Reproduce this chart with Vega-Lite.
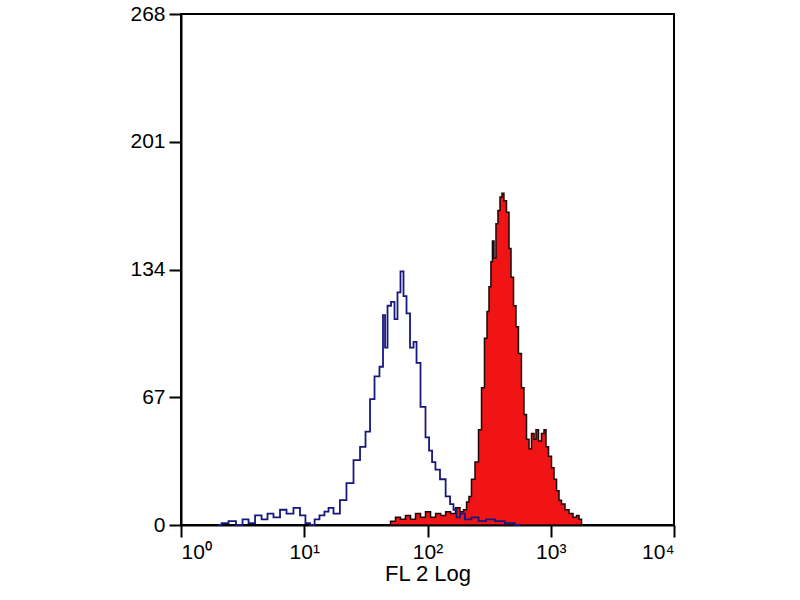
{
  "$schema": "https://vega.github.io/schema/vega-lite/v6.json",
  "width": 493,
  "height": 511,
  "autosize": {"type": "none"},
  "padding": {"left": 181, "top": 14, "right": 126, "bottom": 75},
  "background": "white",
  "config": {
    "view": {"stroke": "black", "strokeWidth": 2},
    "font": "Liberation Sans",
    "axis": {
      "grid": false,
      "domainColor": "black",
      "domainWidth": 2,
      "tickColor": "black",
      "tickWidth": 2,
      "tickSize": 12,
      "labelColor": "black",
      "labelFontSize": 21,
      "labelFont": "Liberation Sans",
      "titleFont": "Liberation Sans",
      "titleFontSize": 22,
      "titleFontWeight": "normal",
      "titleColor": "black"
    }
  },
  "datasets": {
    "blue": [
      {"x": 2.0, "count": 0}, {"x": 2.28, "count": 1}, {"x": 2.59, "count": 2}, {"x": 3.01, "count": 0},
      {"x": 3.31, "count": 3}, {"x": 3.77, "count": 1}, {"x": 4.22, "count": 5}, {"x": 4.81, "count": 3},
      {"x": 5.27, "count": 6}, {"x": 6.01, "count": 4}, {"x": 6.73, "count": 8}, {"x": 7.66, "count": 6},
      {"x": 8.73, "count": 9}, {"x": 9.77, "count": 5}, {"x": 10.7, "count": 1}, {"x": 11.6, "count": 0},
      {"x": 12.7, "count": 3}, {"x": 13.9, "count": 5}, {"x": 15.3, "count": 7}, {"x": 16.2, "count": 9},
      {"x": 18.4, "count": 6}, {"x": 20.6, "count": 13}, {"x": 23.5, "count": 22}, {"x": 26.8, "count": 34},
      {"x": 30.0, "count": 41}, {"x": 32.9, "count": 49}, {"x": 35.5, "count": 66}, {"x": 38.9, "count": 78},
      {"x": 42.7, "count": 83}, {"x": 44.4, "count": 110}, {"x": 46.1, "count": 93}, {"x": 48.7, "count": 115},
      {"x": 52.5, "count": 117}, {"x": 55.5, "count": 108}, {"x": 58.7, "count": 122}, {"x": 62.1, "count": 133},
      {"x": 65.7, "count": 120}, {"x": 69.5, "count": 111}, {"x": 74.9, "count": 93}, {"x": 79.2, "count": 96},
      {"x": 83.8, "count": 85}, {"x": 91.9, "count": 62}, {"x": 101, "count": 46}, {"x": 105, "count": 39},
      {"x": 113, "count": 33}, {"x": 119, "count": 29}, {"x": 134, "count": 24}, {"x": 147, "count": 15},
      {"x": 158, "count": 11}, {"x": 167, "count": 8}, {"x": 177, "count": 4}, {"x": 190, "count": 6},
      {"x": 213, "count": 3}, {"x": 243, "count": 4}, {"x": 277, "count": 2}, {"x": 321, "count": 3},
      {"x": 387, "count": 2}, {"x": 467, "count": 1}, {"x": 562, "count": 0}
    ],
    "red": [
      {"x": 47.8, "count": 0}, {"x": 52.5, "count": 2}, {"x": 57.6, "count": 4}, {"x": 63.2, "count": 3},
      {"x": 69.5, "count": 5}, {"x": 76.3, "count": 3}, {"x": 83.8, "count": 6}, {"x": 91.9, "count": 4},
      {"x": 101, "count": 7}, {"x": 111, "count": 4}, {"x": 122, "count": 6}, {"x": 134, "count": 5},
      {"x": 147, "count": 7}, {"x": 161, "count": 6}, {"x": 177, "count": 9}, {"x": 190, "count": 7},
      {"x": 202, "count": 8}, {"x": 213, "count": 12}, {"x": 221, "count": 15}, {"x": 234, "count": 24},
      {"x": 252, "count": 33}, {"x": 267, "count": 50}, {"x": 282, "count": 72}, {"x": 298, "count": 98},
      {"x": 310, "count": 112}, {"x": 321, "count": 125}, {"x": 333, "count": 138}, {"x": 340, "count": 149},
      {"x": 353, "count": 140}, {"x": 366, "count": 158}, {"x": 380, "count": 165}, {"x": 395, "count": 172},
      {"x": 409, "count": 174}, {"x": 425, "count": 170}, {"x": 450, "count": 164}, {"x": 467, "count": 145},
      {"x": 485, "count": 130}, {"x": 513, "count": 115}, {"x": 532, "count": 104}, {"x": 562, "count": 90},
      {"x": 595, "count": 72}, {"x": 618, "count": 58}, {"x": 654, "count": 45}, {"x": 679, "count": 40},
      {"x": 718, "count": 48}, {"x": 746, "count": 45}, {"x": 773, "count": 50}, {"x": 818, "count": 44},
      {"x": 865, "count": 48}, {"x": 898, "count": 50}, {"x": 933, "count": 41}, {"x": 986, "count": 36},
      {"x": 1043, "count": 30}, {"x": 1083, "count": 24}, {"x": 1146, "count": 18}, {"x": 1189, "count": 13},
      {"x": 1257, "count": 11}, {"x": 1355, "count": 8}, {"x": 1460, "count": 6}, {"x": 1574, "count": 4},
      {"x": 1664, "count": 5}, {"x": 1728, "count": 3}, {"x": 1828, "count": 0}
    ]
  },
  "encoding": {
    "x": {
      "field": "x",
      "type": "quantitative",
      "scale": {"type": "log", "domain": [1, 10000], "nice": false},
      "axis": {
        "values": [1, 10, 100, 1000, 10000],
        "title": "FL 2 Log",
        "labelExpr": "'10' + ['⁰','¹','²','³','⁴'][round(log(datum.value)/LN10)]",
        "labelPadding": 4,
        "labelDx": -6,
        "titlePadding": 1
      }
    },
    "y": {
      "field": "count",
      "type": "quantitative",
      "scale": {"domain": [0, 268], "nice": false},
      "axis": {
        "values": [0, 67, 134, 201, 268],
        "title": null,
        "labelPadding": 4
      }
    }
  },
  "layer": [
    {
      "data": {"name": "red"},
      "mark": {"type": "area", "interpolate": "step", "color": "#f01414", "stroke": "#1a0808", "strokeWidth": 1.5}
    },
    {
      "data": {"name": "blue"},
      "mark": {"type": "line", "interpolate": "step", "color": "#17177e", "strokeWidth": 1.8}
    }
  ]
}
